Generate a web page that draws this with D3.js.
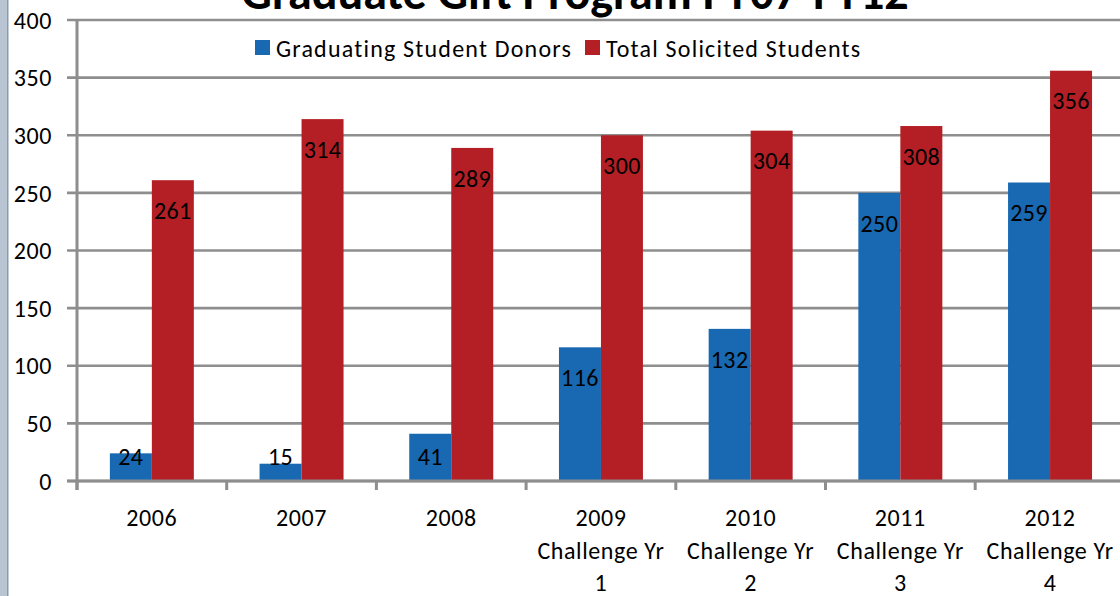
<!DOCTYPE html>
<html><head><meta charset="utf-8">
<script src="https://cdn.jsdelivr.net/npm/d3@7"></script>
<style>
html,body{margin:0;padding:0;background:#fff;overflow:hidden}
svg{display:block}
text{font-family:Carlito,Lato,"Open Sans",sans-serif;fill:#000;font-variant-ligatures:none}
</style></head>
<body>
<script>
const categories = [
  ["2006"], ["2007"], ["2008"],
  ["2009","Challenge Yr","1"], ["2010","Challenge Yr","2"],
  ["2011","Challenge Yr","3"], ["2012","Challenge Yr","4"]
];
const seriesNames = ["Graduating Student Donors", "Total Solicited Students"];
const donors = [24, 15, 41, 116, 132, 250, 259];
const solicited = [261, 314, 289, 300, 304, 308, 356];
const yTicks = [0, 50, 100, 150, 200, 250, 300, 350, 400];
const colors = ["#1868b2", "#b31f25"];
const title = "Graduate Gift Program FY07-FY12";

const W = 1120, H = 596;
const svg = d3.select("body").append("svg").attr("width", W).attr("height", H);

// left window strip
svg.append("rect").attr("x",0).attr("y",0).attr("width",8).attr("height",H).attr("fill","#b9c5d3");
svg.append("rect").attr("x",7).attr("y",0).attr("width",1.5).attr("height",H).attr("fill","#8a9aac");

const keys = categories.map(c => c.join(" "));
const x0 = d3.scaleBand().domain(keys).range([77, 77 + 7*149.7]).paddingInner(0.439).paddingOuter(0.2195);
const x1 = d3.scaleBand().domain(seriesNames).range([0, x0.bandwidth()]);
const y = d3.scaleLinear().domain([0, 400]).range([481, 20]);

// gridlines
svg.append("g").selectAll("line").data(yTicks).join("line")
  .attr("x1", 67).attr("x2", W)
  .attr("y1", d => y(d)).attr("y2", d => y(d))
  .attr("stroke", "#8e8e8e").attr("stroke-width", 2.6);

// y labels
svg.append("g").selectAll("text").data(yTicks).join("text")
  .attr("x", 52).attr("y", d => y(d)).attr("dy", "0.36em")
  .attr("text-anchor", "end").attr("font-size", 24).attr("letter-spacing", 0.6).text(d => d);

// bars
const data = keys.map((k, i) => ({k, vals: [donors[i], solicited[i]]}));
const g = svg.append("g").selectAll("g").data(data).join("g")
  .attr("transform", d => `translate(${x0(d.k)},0)`);
g.selectAll("rect").data(d => d.vals.map((v, j) => ({v, s: seriesNames[j], j}))).join("rect")
  .attr("x", d => x1(d.s)).attr("width", x1.bandwidth())
  .attr("y", d => y(d.v)).attr("height", d => y(0) - y(d.v))
  .attr("fill", d => colors[d.j]);
g.selectAll("text").data(d => d.vals.map((v, j) => ({v, s: seriesNames[j], j}))).join("text")
  .attr("x", d => x1(d.s) + x1.bandwidth()/2)
  .attr("y", d => Math.min(y(d.v) + 30, 456)).attr("dy", "0.36em")
  .attr("text-anchor", "middle").attr("font-size", 24).attr("letter-spacing", 0.4).text(d => d.v);

// axes
const xs = d3.range(8).map(i => x0.range()[0] + i * x0.step());
svg.append("line").attr("x1", 77).attr("x2", 77).attr("y1", y(400) - 1).attr("y2", 490)
  .attr("stroke", "#8e8e8e").attr("stroke-width", 3);
svg.append("line").attr("x1", 67).attr("x2", W).attr("y1", y(0)).attr("y2", y(0))
  .attr("stroke", "#8e8e8e").attr("stroke-width", 3);
svg.append("g").selectAll("line").data(xs).join("line")
  .attr("x1", d => d).attr("x2", d => d).attr("y1", y(0)).attr("y2", 490)
  .attr("stroke", "#8e8e8e").attr("stroke-width", 3);

// x labels
const xl = svg.append("g").selectAll("text").data(categories).join("text")
  .attr("text-anchor", "middle").attr("font-size", 24).attr("letter-spacing", 0.6)
  .attr("transform", (d, i) => `translate(${x0(keys[i]) + x0.bandwidth()/2},0)`);
xl.selectAll("tspan").data(d => d).join("tspan")
  .attr("x", 0).attr("y", (d, i) => 526 + i * 32.5).text(d => d);

// legend
const lg = svg.append("g");
const legX = [255, 585];
seriesNames.forEach((n, i) => {
  lg.append("rect").attr("x", legX[i]).attr("y", 40).attr("width", 15).attr("height", 15).attr("fill", colors[i]);
  lg.append("text").attr("x", legX[i] + 21).attr("y", 48).attr("dy", "0.36em")
    .attr("font-size", 24).attr("letter-spacing", 1.2).text(n);
});

// title
svg.append("text").attr("x", 575).attr("y", 9).attr("text-anchor", "middle")
  .attr("font-size", 48).attr("font-weight", "bold").text(title);
</script>
</body></html>
